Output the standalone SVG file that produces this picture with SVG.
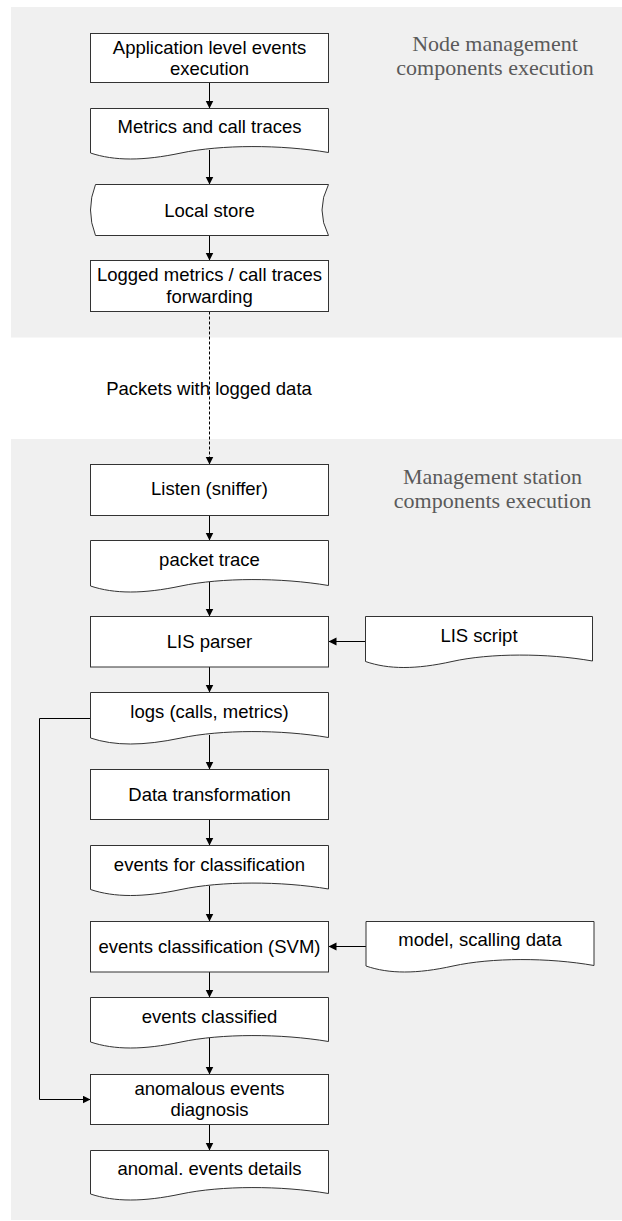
<svg xmlns="http://www.w3.org/2000/svg" width="622" height="1221" viewBox="0 0 622 1221">
<style>
.panel{fill:#f0f0f0;stroke:none}
.node{fill:#ffffff;stroke:#333333;stroke-width:1}
.t{font-family:"Liberation Sans",Arial,sans-serif;font-size:18.5px;fill:#000000;text-anchor:middle}
.lbl{font-family:"Liberation Serif","Times New Roman",serif;font-size:22px;fill:#5a5a5a;text-anchor:middle}
.c{fill:none;stroke:#000000;stroke-width:1}
.dash{stroke-dasharray:3,2}
</style>
<defs>
<marker id="ah" markerUnits="userSpaceOnUse" markerWidth="9" markerHeight="9" refX="8" refY="4" orient="auto">
<path d="M0,0 L8,4 L0,8 Z" fill="#000000"/>
</marker>
</defs>
<rect class="panel" x="11" y="7" width="611" height="330.5"/>
<rect class="panel" x="11" y="439" width="611" height="781"/>
<text class="lbl" x="495" y="51">Node management</text>
<text class="lbl" x="495" y="75">components execution</text>
<text class="lbl" x="492.5" y="483.5">Management station</text>
<text class="lbl" x="492.5" y="508">components execution</text>

<g id="connectors">
<line class="c" x1="209.5" y1="82.5" x2="209.5" y2="108.5" marker-end="url(#ah)"/>
<line class="c" x1="209.5" y1="150" x2="209.5" y2="184.5" marker-end="url(#ah)"/>
<line class="c" x1="209.5" y1="235.5" x2="209.5" y2="260.5" marker-end="url(#ah)"/>
<line class="c dash" x1="209.5" y1="311.5" x2="209.5" y2="464.5" marker-end="url(#ah)"/>
<text class="t" x="209" y="394.5">Packets with logged data</text>
<line class="c" x1="209.5" y1="515.5" x2="209.5" y2="540.5" marker-end="url(#ah)"/>
<line class="c" x1="209.5" y1="582" x2="209.5" y2="616.5" marker-end="url(#ah)"/>
<line class="c" x1="365.5" y1="641.5" x2="328.5" y2="641.5" marker-end="url(#ah)"/>
<line class="c" x1="209.5" y1="667" x2="209.5" y2="692.5" marker-end="url(#ah)"/>
<polyline class="c" points="90.5,718.5 39.5,718.5 39.5,1099.5 90.5,1099.5" marker-end="url(#ah)"/>
<line class="c" x1="209.5" y1="735" x2="209.5" y2="769.5" marker-end="url(#ah)"/>
<line class="c" x1="209.5" y1="819.5" x2="209.5" y2="845.5" marker-end="url(#ah)"/>
<line class="c" x1="209.5" y1="886" x2="209.5" y2="921.5" marker-end="url(#ah)"/>
<line class="c" x1="366" y1="946.5" x2="328.5" y2="946.5" marker-end="url(#ah)"/>
<line class="c" x1="209.5" y1="972" x2="209.5" y2="997.5" marker-end="url(#ah)"/>
<line class="c" x1="209.5" y1="1038" x2="209.5" y2="1074.5" marker-end="url(#ah)"/>
<line class="c" x1="209.5" y1="1124.5" x2="209.5" y2="1150.5" marker-end="url(#ah)"/>
</g>

<g id="n1">
<rect class="node" x="90.5" y="33.5" width="238" height="49"/>
<text class="t" x="209.5" y="54">Application level events</text>
<text class="t" x="209.5" y="74.5">execution</text>
</g>
<g id="n2">
<path class="node" d="M90.5,108.5 H328.5 V152.5 C281,144.5 221,144.5 181,153 C143,161 114.5,161 90.5,153 Z"/>
<text class="t" x="209.5" y="133">Metrics and call traces</text>
</g>
<g id="n3">
<path class="node" d="M95.5,184.5 H328.5 Q315.5,210 328.5,235.5 H95.5 Q85.5,210 95.5,184.5 Z"/>
<text class="t" x="209.5" y="216.5">Local store</text>
</g>
<g id="n4">
<rect class="node" x="90.5" y="260.5" width="238" height="51"/>
<text class="t" x="209.5" y="281">Logged metrics / call traces</text>
<text class="t" x="209.5" y="302.5">forwarding</text>
</g>
<g id="n5">
<rect class="node" x="90.5" y="464.5" width="238" height="51"/>
<text class="t" x="209.5" y="495">Listen (sniffer)</text>
</g>
<g id="n6">
<path class="node" d="M90.5,540.5 H328.5 V585.5 C281,577.5 221,577.5 181,586 C143,594 114.5,594 90.5,586 Z"/>
<text class="t" x="209.5" y="565.5">packet trace</text>
</g>
<g id="n7">
<rect class="node" x="90.5" y="616.5" width="238" height="50.5"/>
<text class="t" x="209.5" y="647.5">LIS parser</text>
</g>
<g id="n8">
<path class="node" d="M365.5,616.5 H592.5 V661 C547,653 490,653 452,661.5 C416,669.5 388.5,669.5 365.5,661.5 Z"/>
<text class="t" x="479" y="641.5">LIS script</text>
</g>
<g id="n9">
<path class="node" d="M90.5,692.5 H328.5 V737.5 C281,729.5 221,729.5 181,738 C143,746 114.5,746 90.5,738 Z"/>
<text class="t" x="209.5" y="717.5">logs (calls, metrics)</text>
</g>
<g id="n10">
<rect class="node" x="90.5" y="769.5" width="238" height="50"/>
<text class="t" x="209.5" y="800.5">Data transformation</text>
</g>
<g id="n11">
<path class="node" d="M90.5,845.5 H328.5 V889 C281,881 221,881 181,889.5 C143,897.5 114.5,897.5 90.5,889.5 Z"/>
<text class="t" x="209.5" y="870.5">events for classification</text>
</g>
<g id="n12">
<rect class="node" x="90.5" y="921.5" width="238" height="50.5"/>
<text class="t" x="209.5" y="952.5">events classification (SVM)</text>
</g>
<g id="n13">
<path class="node" d="M366,921.5 H594 V965.5 C548.5,957.5 491.5,957.5 453,966 C417,974 389,974 366,966 Z"/>
<text class="t" x="480" y="946">model, scalling data</text>
</g>
<g id="n14">
<path class="node" d="M90.5,997.5 H328.5 V1041.5 C281,1033.5 221,1033.5 181,1042 C143,1050 114.5,1050 90.5,1042 Z"/>
<text class="t" x="209.5" y="1022.5">events classified</text>
</g>
<g id="n15">
<rect class="node" x="90.5" y="1074.5" width="238" height="50"/>
<text class="t" x="209.5" y="1094.5">anomalous events</text>
<text class="t" x="209.5" y="1116">diagnosis</text>
</g>
<g id="n16">
<path class="node" d="M90.5,1150.5 H328.5 V1193.5 C281,1185.5 221,1185.5 181,1194 C143,1202 114.5,1202 90.5,1194 Z"/>
<text class="t" x="209.5" y="1175">anomal. events details</text>
</g>
</svg>
